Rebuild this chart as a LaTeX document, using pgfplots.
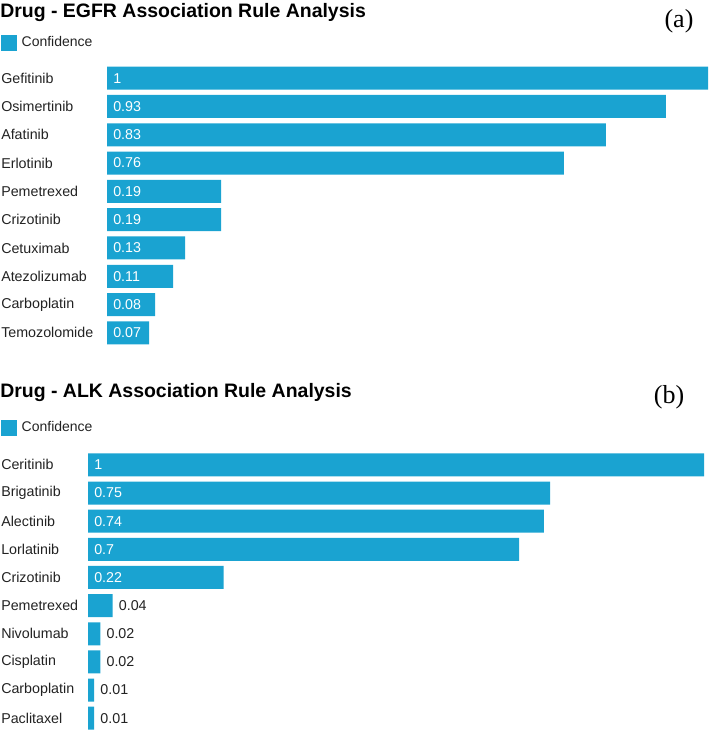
\documentclass[border=0pt]{standalone}
\usepackage{fontspec}
\setmainfont{Liberation Sans}
\newfontfamily\panelfont{Liberation Serif}
\usepackage{pgfplots}
\pgfplotsset{compat=1.18}
\definecolor{BarBlue}{HTML}{1AA3D1}
\definecolor{Ink}{HTML}{222222}

% 1 px of the reference = 0.75pt
\pgfplotsset{
  drugbars/.style={
    scale only axis, anchor=north west, clip=false,
    xmin=0, xmax=1, ymin=-0.5, ymax=9.5, y dir=reverse,
    axis line style={draw=none},
    xtick=\empty, ytick={0,...,9}, major tick length=0pt,
    yticklabel style={anchor=west, inner sep=0pt, text=Ink,
      font=\fontsize{10.7}{12}\selectfont},
    legend style={draw=none, fill=none, inner sep=0pt, outer sep=0pt,
      anchor=north west, text=Ink, font=\fontsize{10.5}{12}\selectfont,
      nodes={inner sep=0pt},
      /tikz/every odd column/.append style={column sep=3.75pt}},
    legend cell align=left,
    legend image code/.code={\fill[BarBlue] (0pt,-5.9pt) rectangle (11.75pt,5.9pt);},
  },
  bars/.style={xbar, bar width=17.25pt, bar shift=0pt, fill=BarBlue, draw=none},
  inlabels/.style={draw=none, mark=none, forget plot, point meta=explicit symbolic,
    nodes near coords,
    every node near coord/.append style={anchor=west, inner sep=0pt, xshift=4.5pt,
      text=white, font=\fontsize{10.7}{12}\selectfont}},
  outlabels/.style={inlabels,
    every node near coord/.append style={text=Ink}},
}

\begin{document}
\begin{tikzpicture}
\path[use as bounding box] (0,0) rectangle (531pt,-548.25pt);

% (a) EGFR
\begin{axis}[drugbars,
    at={(80.25pt,-48pt)}, width=450.75pt, height=212.25pt,
    yticklabel style={xshift=-79.5pt},
    yticklabels={Gefitinib,Osimertinib,Afatinib,Erlotinib,Pemetrexed,Crizotinib,Cetuximab,Atezolizumab,Carboplatin,Temozolomide},
    legend style={at={(-0.1764,1.1025)}}]
  \addplot[bars] coordinates {(1,0) (0.93,1) (0.83,2) (0.76,3) (0.19,4) (0.19,5) (0.13,6) (0.11,7) (0.08,8) (0.07,9)};
  \addlegendentry{Confidence}
  \addplot[inlabels] coordinates {(0,0) [1] (0,1) [0.93] (0,2) [0.83] (0,3) [0.76] (0,4) [0.19] (0,5) [0.19] (0,6) [0.13] (0,7) [0.11] (0,8) [0.08] (0,9) [0.07]};
\end{axis}

% (b) ALK
\begin{axis}[drugbars,
    at={(66pt,-338.1pt)}, width=462pt, height=211.1pt,
    yticklabel style={xshift=-65.25pt},
    yticklabels={Ceritinib,Brigatinib,Alectinib,Lorlatinib,Crizotinib,Pemetrexed,Nivolumab,Cisplatin,Carboplatin,Paclitaxel},
    legend style={at={(-0.1412,1.1094)}}]
  \addplot[bars] coordinates {(1,0) (0.75,1) (0.74,2) (0.70,3) (0.22,4) (0.04,5) (0.02,6) (0.02,7) (0.01,8) (0.01,9)};
  \addlegendentry{Confidence}
  \addplot[inlabels] coordinates {(0,0) [1] (0,1) [0.75] (0,2) [0.74] (0,3) [0.7] (0,4) [0.22]};
  \addplot[outlabels] coordinates {(0.04,5) [0.04] (0.02,6) [0.02] (0.02,7) [0.02] (0.01,8) [0.01] (0.01,9) [0.01]};
\end{axis}

\node[anchor=north west, inner sep=0pt, font=\bfseries\fontsize{14.6}{17}\selectfont]
  at (0pt,-2.2pt) {Drug - EGFR Association Rule Analysis};
\node[anchor=north west, inner sep=0pt, font=\bfseries\fontsize{14.6}{17}\selectfont]
  at (0pt,-287.2pt) {Drug - ALK Association Rule Analysis};
\node[inner sep=0pt, font=\panelfont\fontsize{19.5}{21}\selectfont] at (509.25pt,-15.75pt) {(a)};
\node[inner sep=0pt, font=\panelfont\fontsize{19.5}{21}\selectfont] at (501.75pt,-297.75pt) {(b)};
\end{tikzpicture}
\end{document}
